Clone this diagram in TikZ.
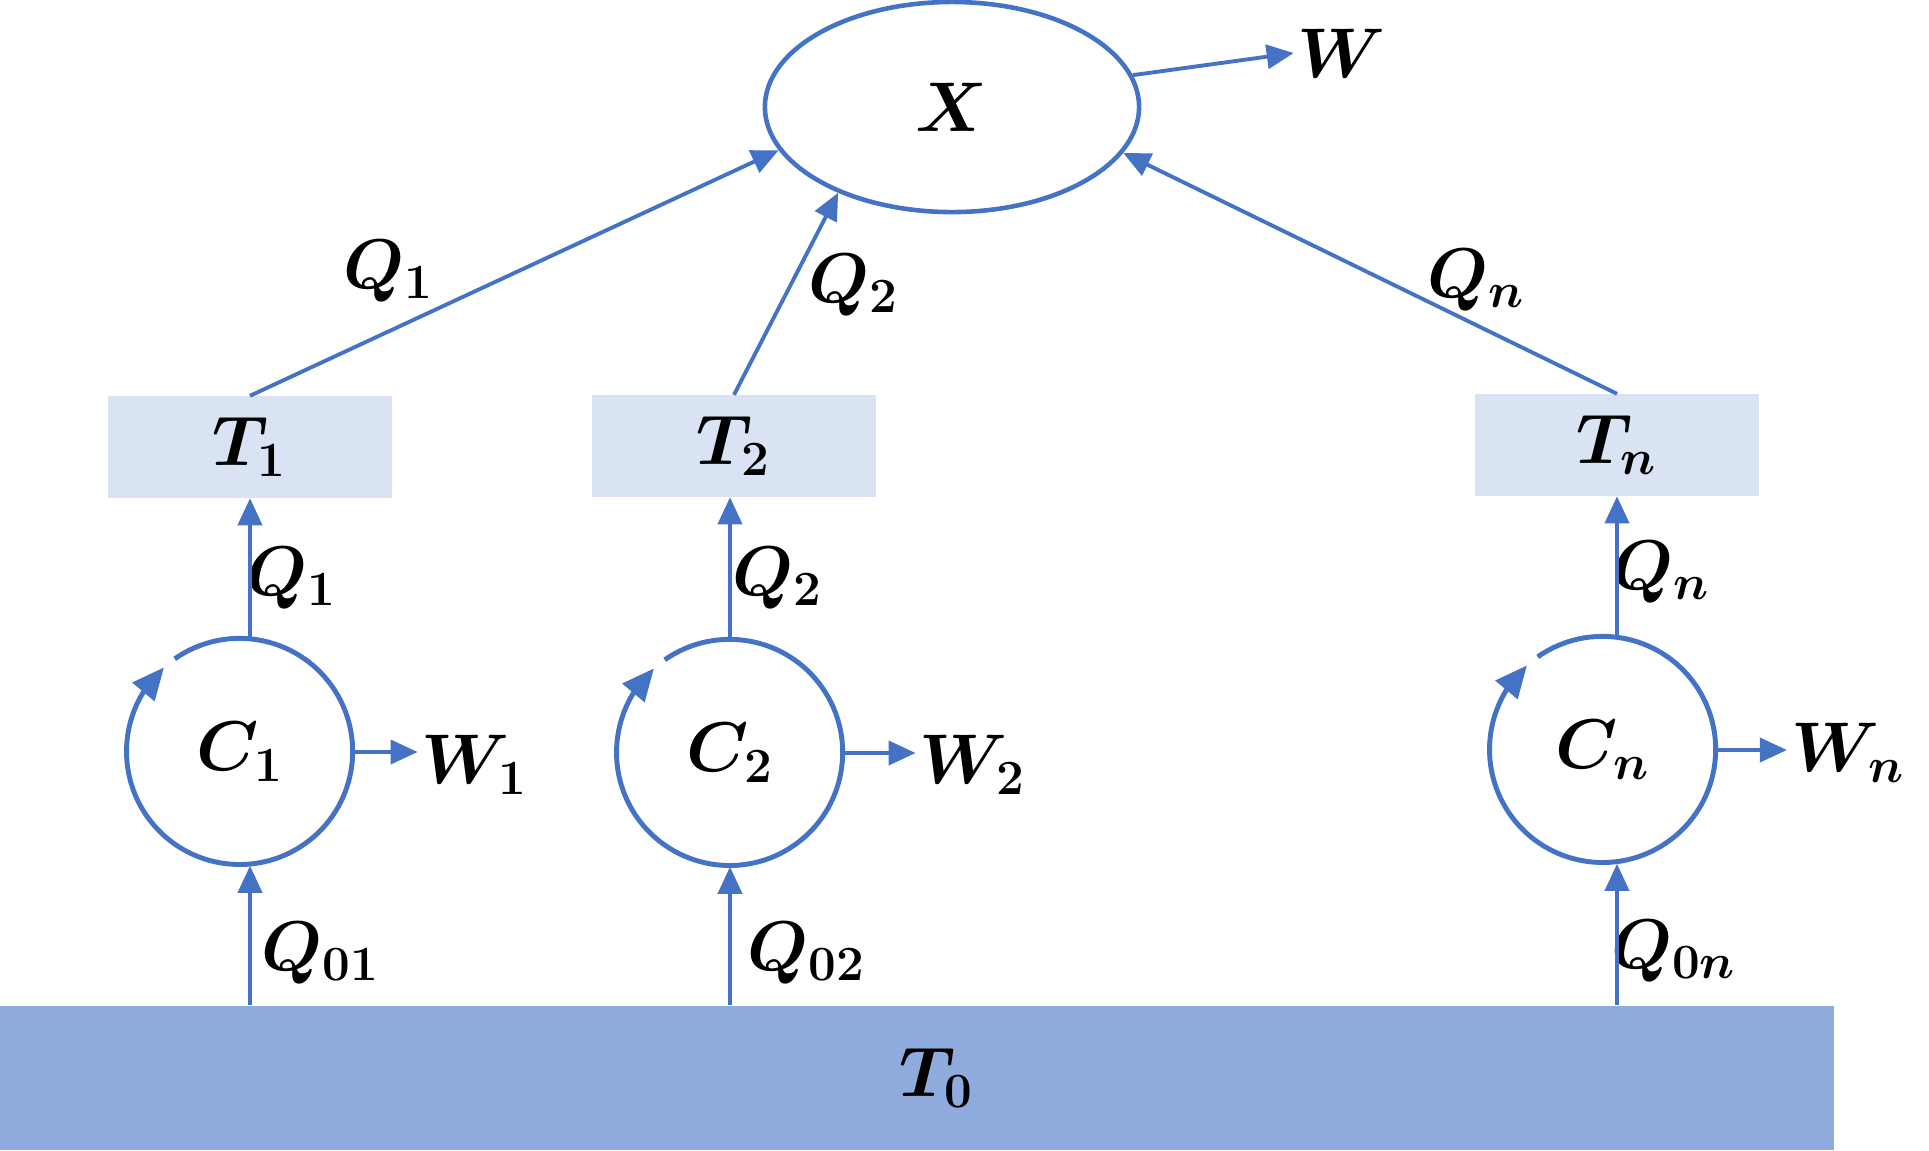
\documentclass[tikz,border=0pt]{standalone}
\usepackage{fix-cm}
\usepackage{amsmath}
\usepackage{tikz}
\usetikzlibrary{positioning,shapes.geometric,arrows.meta,bending}
\usepackage{xcolor}
\definecolor{lineblue}{HTML}{4472C4}
\definecolor{boxblue}{HTML}{DAE3F3}
\definecolor{baseblue}{HTML}{8FAADC}

\begin{document}
\begin{tikzpicture}[x=0.01cm, y=-0.01cm,
    font=\fontsize{20}{24}\selectfont\boldmath,
    >={Triangle[length=2.7mm,width=2.4mm]},
    flow/.style={->, draw=lineblue, line width=1.1pt},
    loop/.style={-{Triangle[length=3.2mm,width=2.8mm,flex]}, draw=lineblue, line width=1.4pt},
    tbox/.style={fill=boxblue, minimum width=2.84cm, minimum height=1.01cm},
    cyc/.style={circle, minimum size=2.26cm, inner sep=0pt},
    lbl/.style={inner sep=1pt}]
    \useasboundingbox (0,0) rectangle (1929,1150);
    % Reservoir at the bottom
    \node[fill=baseblue, minimum width=18.33cm, minimum height=1.44cm,
          inner sep=0pt, label={[xshift=0.2cm]center:$T_0$}] (t0) at (916.5,1078) {};
    % Central ellipse
    \node[draw=lineblue, line width=1.3pt, ellipse, minimum width=3.74cm,
          minimum height=2.1cm, inner sep=0pt] (x) at (952,107) {$X$};
    \node[lbl] (w) at (1342,53) {$W$};
    % Intermediate boxes
    \node[tbox] (t1) at (250,447) {$T_1$};
    \node[tbox] (t2) at (734,446) {$T_2$};
    \node[tbox] (tn) at (1617,445) {$T_n$};
    % Cycles
    \node[cyc] (c1) at (240,752) {$C_1$};
    \node[cyc] (c2) at (730,753) {$C_2$};
    \node[cyc] (cn) at (1603,750) {$C_n$};
    % Work outputs
    \node[lbl] (w1) at (475,765) {$W_1$};
    \node[lbl] (w2) at (973,765) {$W_2$};
    \node[lbl] (wn) at (1848,753) {$W_n$};
    % Heat labels
    \node[lbl] (q1a) at (389,271) {$Q_1$};
    \node[lbl] (q2a) at (854,285) {$Q_2$};
    \node[lbl] (qna) at (1476,280) {$Q_n$};
    \node[lbl] (q1b) at (292,578) {$Q_1$};
    \node[lbl] (q2b) at (778,578) {$Q_2$};
    \node[lbl] (qnb) at (1661,572) {$Q_n$};
    \node[lbl] (q01) at (321,953) {$Q_{01}$};
    \node[lbl] (q02) at (807,953) {$Q_{02}$};
    \node[lbl] (q0n) at (1674,951) {$Q_{0n}$};
    % Cycle circles with direction arrow
    \draw[loop] (c1.125) arc[start angle=125, end angle=-228, radius=1.13cm];
    \draw[loop] (c2.125) arc[start angle=125, end angle=-228, radius=1.13cm];
    \draw[loop] (cn.125) arc[start angle=125, end angle=-228, radius=1.13cm];
    % Arrows from reservoir to cycles
    \draw[flow] (t0.north -| t1) -- (c1.south -| t1);
    \draw[flow] (t0.north -| c2) -- (c2.south);
    \draw[flow] (t0.north -| tn) -- (cn.south -| tn);
    % Arrows from cycles to boxes
    \draw[flow] (c1.north -| t1) -- (t1.south);
    \draw[flow] (c2.north) -- (c2.north |- t2.south);
    \draw[flow] (cn.north -| tn) -- (tn.south);
    % Work arrows
    \draw[flow] (c1.east) -- (c1.east -| w1.west);
    \draw[flow] (c2.east) -- (c2.east -| w2.west);
    \draw[flow] (cn.east) -- (cn.east -| wn.west);
    \draw[flow] (x.10) -- (w.west);
    % Arrows from boxes to ellipse
    \draw[flow] (t1.north) -- (x.194);
    \draw[flow] (t2.north) -- (x.217);
    \draw[flow] (tn.north) -- (x.345);
\end{tikzpicture}
\end{document}
